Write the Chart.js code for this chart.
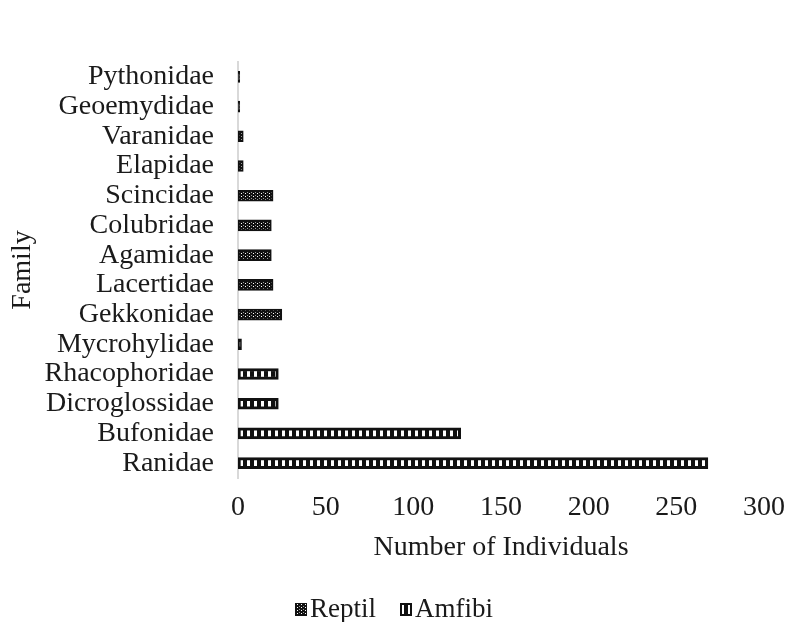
<!DOCTYPE html>
<html>
<head>
<meta charset="utf-8">
<script src="https://cdn.jsdelivr.net/npm/chart.js@4"></script>
<style>
    html, body { margin: 0; padding: 0; background: #fff; }
    #wrap { width: 788px; height: 622px; }
</style>
</head>
<body>
<div id="wrap"><canvas id="familyChart"></canvas></div>
<script>
// Data
const families = ["Pythonidae", "Geoemydidae", "Varanidae", "Elapidae", "Scincidae", "Colubridae",
    "Agamidae", "Lacertidae", "Gekkonidae", "Mycrohylidae", "Rhacophoridae", "Dicroglossidae",
    "Bufonidae", "Ranidae"];
const reptil = [1, 1, 3, 3, 20, 19, 19, 20, 25, 0, 0, 0, 0, 0];
const amfibi = [0, 0, 0, 0, 0, 0, 0, 0, 0, 2, 23, 23, 127, 268];
const xTicks = [0, 50, 100, 150, 200, 250, 300];

// Fill patterns
function makePattern(w, h, draw) {
    const c = document.createElement("canvas");
    c.width = w;
    c.height = h;
    const g = c.getContext("2d");
    draw(g);
    return g.createPattern(c, "repeat");
}

const ctx = document.getElementById("familyChart").getContext("2d");

// dotted dark fill for reptiles
const reptilFill = makePattern(4, 3, g => {
    g.fillStyle = "#111";
    g.fillRect(0, 0, 4, 3);
    g.fillStyle = "#fff";
    g.fillRect(1, 1, 1, 1);
    g.fillStyle = "#999";
    g.fillRect(3, 0, 1, 1);
});

// ladder fill for amphibians
const amfibiFill = makePattern(7, 1, g => {
    g.fillStyle = "#111";
    g.fillRect(0, 0, 7, 1);
    g.fillStyle = "#fff";
    g.fillRect(2, 0, 3, 1);
});

const serif = "'Liberation Serif', 'Times New Roman', serif";
const font = { family: serif, size: 28 };
const textColor = "#1a1a1a";

// legend drawn by hand so the box/text gap matches the original
const bottomLegend = {
    id: "bottomLegend",
    afterDraw(chart) {
        const g = chart.ctx;
        const y = 609;
        const box = 12;
        g.save();
        g.font = "27px " + serif;
        g.textBaseline = "middle";
        const items = [
            { text: "Reptil", fill: reptilFill, border: 1 },
            { text: "Amfibi", fill: amfibiFill, border: 2 }
        ];
        const widths = items.map(it => box + 3 + g.measureText(it.text).width);
        const gap = 24;
        let x = Math.round(chart.width / 2 - (widths[0] + gap + widths[1]) / 2);
        items.forEach((it, i) => {
            g.fillStyle = "#111";
            g.fillRect(x, y - 6, box, box + 1);
            g.fillStyle = it.fill;
            g.fillRect(x + it.border, y - 6 + it.border, box - 2 * it.border, box + 1 - 2 * it.border);
            g.fillStyle = textColor;
            g.fillText(it.text, x + box + 3, y + 1);
            x += Math.round(widths[i] + gap);
        });
        g.restore();
    }
};

const familyChart = new Chart(ctx, {
    type: "bar",
    data: {
        labels: families,
        datasets: [
            {
                label: "Reptil",
                data: reptil,
                backgroundColor: reptilFill,
                borderColor: "#111",
                borderWidth: 2,
                borderSkipped: false,
                barThickness: 11
            },
            {
                label: "Amfibi",
                data: amfibi,
                backgroundColor: amfibiFill,
                borderColor: "#111",
                borderWidth: 3,
                borderSkipped: false,
                barThickness: 11
            }
        ]
    },
    options: {
        indexAxis: "y",
        responsive: true,
        maintainAspectRatio: false,
        animation: false,
        layout: { padding: { top: 62, right: 24, left: 6, bottom: 58 } },
        scales: {
            x: {
                stacked: true,
                min: 0,
                max: 300,
                afterBuildTicks: axis => { axis.ticks = xTicks.map(v => ({ value: v })); },
                afterFit: axis => {
                    axis.height = 86;
                    axis.paddingRight = 0;
                },
                grid: { display: false, drawTicks: false },
                border: { display: false },
                ticks: { font: font, color: textColor, padding: 13, maxRotation: 0 },
                title: { display: true, text: "Number of Individuals", font: font, color: textColor, padding: 0 }
            },
            y: {
                stacked: true,
                afterFit: axis => { axis.width = 232; },
                grid: { display: false, drawTicks: false },
                border: { display: true, color: "#d9d9d9", width: 2 },
                ticks: { font: font, color: textColor, padding: 24, autoSkip: false },
                title: { display: true, text: "Family", font: font, color: textColor, padding: 0 }
            }
        },
        plugins: {
            legend: { display: false },
            tooltip: { enabled: false }
        }
    },
    plugins: [bottomLegend]
});
</script>
</body>
</html>
